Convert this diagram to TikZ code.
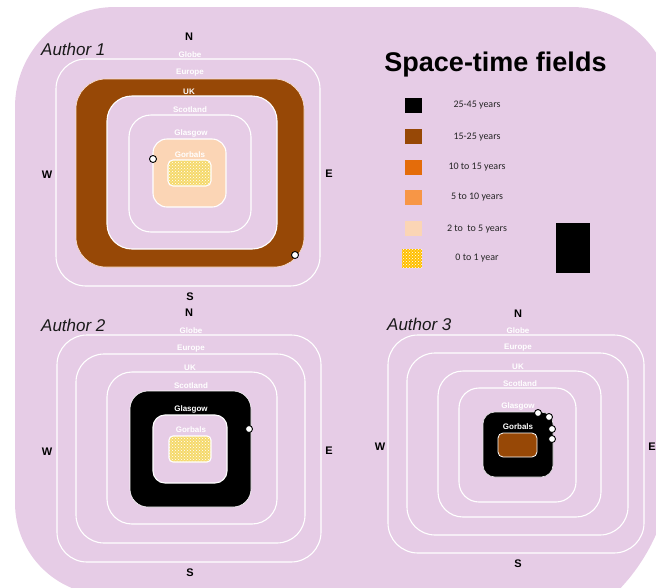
\documentclass[tikz,border=0pt]{standalone}
\usepackage{fontspec}
\setmainfont{Liberation Sans}
\newfontfamily\calib{Carlito}
\usetikzlibrary{patterns}
\definecolor{bgpurple}{HTML}{E6CCE6}
\definecolor{brownc}{HTML}{974806}
\definecolor{orangec}{HTML}{E46C0A}
\definecolor{lorange}{HTML}{F79646}
\definecolor{peach}{HTML}{FBD5B5}
\definecolor{yel}{HTML}{F5D96B}
\definecolor{yelleg}{HTML}{FFC000}
\tikzset{
  ring/.style={draw=white, line width=1.1pt},
  lab/.style={text=white, font=\bfseries\fontsize{8}{8}\selectfont, inner sep=0pt},
  compass/.style={text=black, font=\bfseries\fontsize{11}{11}\selectfont, inner sep=0pt},
  author/.style={text=black!90, font=\itshape\fontsize{17}{17}\selectfont, inner sep=0pt, anchor=west},
  legtext/.style={text=black!85, font=\calib\fontsize{10}{10}\selectfont, inner sep=0pt},
  dot/.style={circle, draw=black, fill=white, line width=0.9pt, minimum size=7pt, inner sep=0pt},
  yelfill/.style={fill=yel, postaction={pattern=crosshatch dots, pattern color=white}},
}
\begin{document}
\begin{tikzpicture}[x=1pt,y=-1pt]
\useasboundingbox (0,0) rectangle (656,587);
\clip (0,0) rectangle (656,587);
% background
\fill[bgpurple] (15,107) .. controls (15,51.8) and (59.8,7) .. (115,7)
  -- (572,7) .. controls (627.2,7) and (672,51.8) .. (672,107)
  -- (672,458) .. controls (672,563) and (587,648) .. (482,648)
  -- (107,595) .. controls (56.2,595) and (15,553.8) .. (15,503) -- cycle;

% ===== Author 1 =====
\node[author] (a1) at (41,49) {Author 1};
\draw[ring, rounded corners=30pt] (56,59) rectangle (320,286);
\draw[fill=brownc, draw=peach!70!white, line width=0.6pt, rounded corners=30pt] (76,79) rectangle (304,267);
\draw[ring, fill=bgpurple, rounded corners=25pt] (107,96) rectangle (277,249);
\draw[ring, rounded corners=22pt] (129,115) rectangle (251,232);
\draw[ring, fill=peach, rounded corners=14pt] (153,139) rectangle (226,207);
\draw[ring, yelfill, rounded corners=5pt] (168,160) rectangle (211,186);
\node[lab] (a1globe) at (190,55) {Globe};
\node[lab] (a1europe) at (190,73) {Europe};
\node[lab] (a1uk) at (189,92) {UK};
\node[lab] (a1scot) at (190,110) {Scotland};
\node[lab] (a1glas) at (191,133) {Glasgow};
\node[lab] (a1gorb) at (190,155) {Gorbals};
\node[dot] (a1d1) at (153,159) {};
\node[dot] (a1d2) at (295,255) {};
\node[compass] (a1n) at (189,37) {N};
\node[compass] (a1s) at (190,297) {S};
\node[compass] (a1w) at (47,175) {W};
\node[compass] (a1e) at (329,174) {E};

% ===== Author 2 =====
\node[author] (a2) at (41,325) {Author 2};
\draw[ring, rounded corners=30pt] (57,335) rectangle (321,562);
\draw[ring, rounded corners=28pt] (76,354) rectangle (305,543);
\draw[ring, rounded corners=25pt] (107,372) rectangle (277,524);
\draw[fill=black, draw=white, line width=0.6pt, rounded corners=18pt] (130,391) rectangle (251,507);
\draw[ring, fill=bgpurple, rounded corners=12pt] (153,415) rectangle (227,483);
\draw[ring, yelfill, rounded corners=4pt] (169,436) rectangle (211,462);
\node[lab] (a2globe) at (191,331) {Globe};
\node[lab] (a2europe) at (191,349) {Europe};
\node[lab] (a2uk) at (190,368) {UK};
\node[lab] (a2scot) at (191,386) {Scotland};
\node[lab] (a2glas) at (191,409) {Glasgow};
\node[lab] (a2gorb) at (191,430) {Gorbals};
\node[dot] (a2d1) at (249,429) {};
\node[compass] (a2n) at (189,313) {N};
\node[compass] (a2s) at (190,573) {S};
\node[compass] (a2w) at (47,452) {W};
\node[compass] (a2e) at (329,451) {E};

% ===== Author 3 =====
\node[author] (a3) at (387,324) {Author 3};
\draw[ring, rounded corners=30pt] (388,335) rectangle (644,553);
\draw[ring, rounded corners=28pt] (407,353) rectangle (628,535);
\draw[ring, rounded corners=25pt] (438,371) rectangle (601,517);
\draw[ring, rounded corners=20pt] (459,388) rectangle (576,502);
\draw[fill=black, draw=white!80!gray, line width=0.6pt, rounded corners=12pt] (483,412) rectangle (553,477);
\draw[ring, fill=brownc, line width=0.8pt, rounded corners=5pt] (498,433) rectangle (537,457);
\node[lab] (a3globe) at (518,331) {Globe};
\node[lab] (a3europe) at (518,348) {Europe};
\node[lab] (a3uk) at (518,367) {UK};
\node[lab] (a3scot) at (520,384) {Scotland};
\node[lab] (a3glas) at (518,406) {Glasgow};
\node[lab] (a3gorb) at (518,427) {Gorbals};
\node[dot] (a3d1) at (538,413) {};
\node[dot] (a3d2) at (549,417) {};
\node[dot] (a3d3) at (552,429) {};
\node[dot] (a3d4) at (552,439) {};
\node[compass] (a3n) at (518,314) {N};
\node[compass] (a3s) at (518,564) {S};
\node[compass] (a3w) at (380,447) {W};
\node[compass] (a3e) at (652,447) {E};

% ===== Legend =====
\node[font=\bfseries\fontsize{27}{27}\selectfont, inner sep=0pt] (title) at (495.5,65) {Space-time fields};
\fill[black] (405,97.5) rectangle (422,113);
\fill[brownc] (405,128.5) rectangle (422,144);
\fill[orangec] (405,159.5) rectangle (422,175);
\fill[lorange] (405,189.5) rectangle (422,205);
\fill[peach] (405,220.5) rectangle (422,236);
\fill[yelleg, postaction={pattern=crosshatch dots, pattern color=white}] (402,249) rectangle (422,268);
\node[legtext] (l1) at (477,105.5) {25-45 years};
\node[legtext] (l2) at (477,137) {15-25 years};
\node[legtext] (l3) at (477,167.5) {10 to 15 years};
\node[legtext] (l4) at (477,197.5) {5 to 10 years};
\node[legtext] (l5) at (477,229) {2 to \ to 5 years};
\node[legtext] (l6) at (477,258.5) {0 to 1 year};
\fill[black] (556,223) rectangle (590,273);
\end{tikzpicture}
\end{document}
